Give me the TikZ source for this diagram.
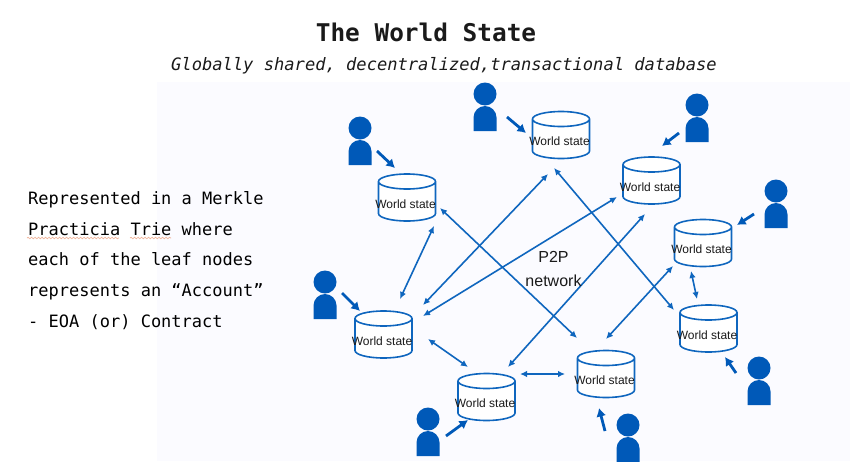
\documentclass[tikz,border=0pt]{standalone}
\usepackage{fontspec}
\setmainfont{Liberation Sans}
\newfontfamily\monof{DejaVu Sans Mono}
\usetikzlibrary{arrows.meta,decorations.pathmorphing}
\definecolor{panel}{HTML}{FBFBFF}
\definecolor{linkblue}{HTML}{0F66BE}
\definecolor{userblue}{HTML}{0059B8}
\definecolor{inkdark}{HTML}{1A1A1A}
\definecolor{squig}{HTML}{F0B49A}
\tikzset{
  x=1pt,y=-1pt,
  dbshape/.style={rectangle,minimum width=57pt,minimum height=47pt,inner sep=0pt},
  dbline/.style={draw=linkblue,line width=1.6pt,fill=white},
  dblabel/.style={inner sep=0pt,text=inkdark,font=\fontsize{12}{14}\selectfont},
  head/.style={circle,fill=userblue,minimum size=23pt,inner sep=0pt},
  link/.style={draw=linkblue,line width=1.6pt,{Latex[length=7pt,width=6.5pt]}-{Latex[length=7pt,width=6.5pt]}},
  feed/.style={draw=userblue,line width=2.8pt,-{Latex[length=8.5pt,width=10pt]}},
  title/.style={inner sep=0pt,anchor=base,text=inkdark,font=\monof\bfseries\fontsize{24.4}{28}\selectfont},
  subtitle/.style={inner sep=0pt,anchor=base,text=inkdark,font=\monof\itshape\fontsize{17.1}{20}\selectfont},
  body/.style={inner sep=0pt,anchor=north west,align=left,text=black,font=\monof\fontsize{17}{30.8}\selectfont},
  netlabel/.style={inner sep=0pt,text=inkdark,align=center,font=\fontsize{16}{24}\selectfont},
  wavy/.style={draw=squig,line width=0.7pt,decorate,decoration={snake,amplitude=0.8pt,segment length=3.5pt}}
}
\newcommand{\dbnode}[3]{%
  \node[dbshape] (#1) at (#2,#3) {};
  \path[dbline] ([shift={(-28.5,-16)}]#1.center) -- ([shift={(-28.5,16)}]#1.center)
    arc[start angle=180,end angle=360,x radius=28.5pt,y radius=7.5pt]
    -- ([shift={(28.5,-16)}]#1.center)
    arc[start angle=0,end angle=180,x radius=28.5pt,y radius=7.5pt]
    arc[start angle=180,end angle=360,x radius=28.5pt,y radius=7.5pt];
  \node[dblabel] (#1t) at (#2-1.5,#3+6.5) {World state};}
\newcommand{\person}[3]{\node[head] (#1) at (#2,#3) {};\fill[userblue] ([shift={(-11.5,37)}]#1.center) -- ([shift={(-11.5,23.5)}]#1.center) arc[start angle=180,end angle=0,radius=11.5pt] -- ([shift={(11.5,37)}]#1.center) -- cycle;}
\newcommand{\linkdb}[6]{\draw[link] ([shift={(#2,#3)}]#1.center) -- ([shift={(#5,#6)}]#4.center);}
\newcommand{\feeddb}[6]{\draw[feed] ([shift={(#2,#3)}]#1.center) -- ([shift={(#5,#6)}]#4.center);}
\begin{document}
\begin{tikzpicture}
\useasboundingbox (0,0) rectangle (850,461);
\fill[panel] (157,82) rectangle (850,461);
\node[title] (ttl) at (426,41) {The World State};
\node[subtitle] (sub) at (444,70) {Globally shared, decentralized,transactional database};
\node[body] (txt) at (28,191) {Represented in a Merkle\\Practicia Trie where\\each of the leaf nodes\\represents an “Account”\\- EOA (or) Contract};
\draw[wavy] (27,238) -- (119,238);
\draw[wavy] (130,238) -- (171,238);
\dbnode{c1}{407}{197.5}
\dbnode{c2}{561}{135}
\dbnode{c3}{651.5}{180.5}
\dbnode{c4}{703}{243}
\dbnode{c5}{708.5}{328.5}
\dbnode{c6}{606}{374}
\dbnode{c7}{486.5}{397}
\dbnode{c8}{383.5}{334.5}
\person{p1}{360}{128}
\person{p2}{485}{94}
\person{p3}{697}{105}
\person{p4}{776}{191}
\person{p5}{759}{368}
\person{p6}{628}{425}
\person{p7}{428}{419}
\person{p8}{325}{282}
\linkdb{c1}{27}{28.5}{c8}{16.5}{-35.5}
\linkdb{c8}{39.5}{-29.5}{c2}{-13}{39}
\linkdb{c8}{39.5}{-18.5}{c3}{-34.5}{16.5}
\linkdb{c1}{33}{10.5}{c6}{-29}{-36}
\linkdb{c2}{-7}{33}{c5}{-34.5}{-18.5}
\linkdb{c3}{-6.5}{33.5}{c7}{21.5}{-30}
\linkdb{c4}{-30}{23}{c6}{0}{-35}
\linkdb{c4}{-12}{28}{c5}{-11.5}{-29.5}
\linkdb{c8}{44.5}{4.5}{c7}{-18.5}{-30}
\linkdb{c7}{33.5}{-23}{c6}{-41}{0}
\feeddb{p1}{17}{23}{c1}{-12}{-29.5}
\feeddb{p2}{22}{23}{c2}{-35}{-2}
\feeddb{p3}{-18}{28}{c3}{10.5}{-34.5}
\feeddb{p4}{-22}{23}{c4}{34}{-18}
\feeddb{p5}{-23}{5}{c5}{16.5}{28.5}
\feeddb{p6}{-23}{6}{c6}{-7}{34}
\feeddb{p7}{18}{17}{c7}{-18.5}{23}
\feeddb{p8}{17}{11}{c8}{-23.5}{-23.5}
\node[netlabel] (net) at (553.5,269) {P2P\\network};
\end{tikzpicture}
\end{document}
